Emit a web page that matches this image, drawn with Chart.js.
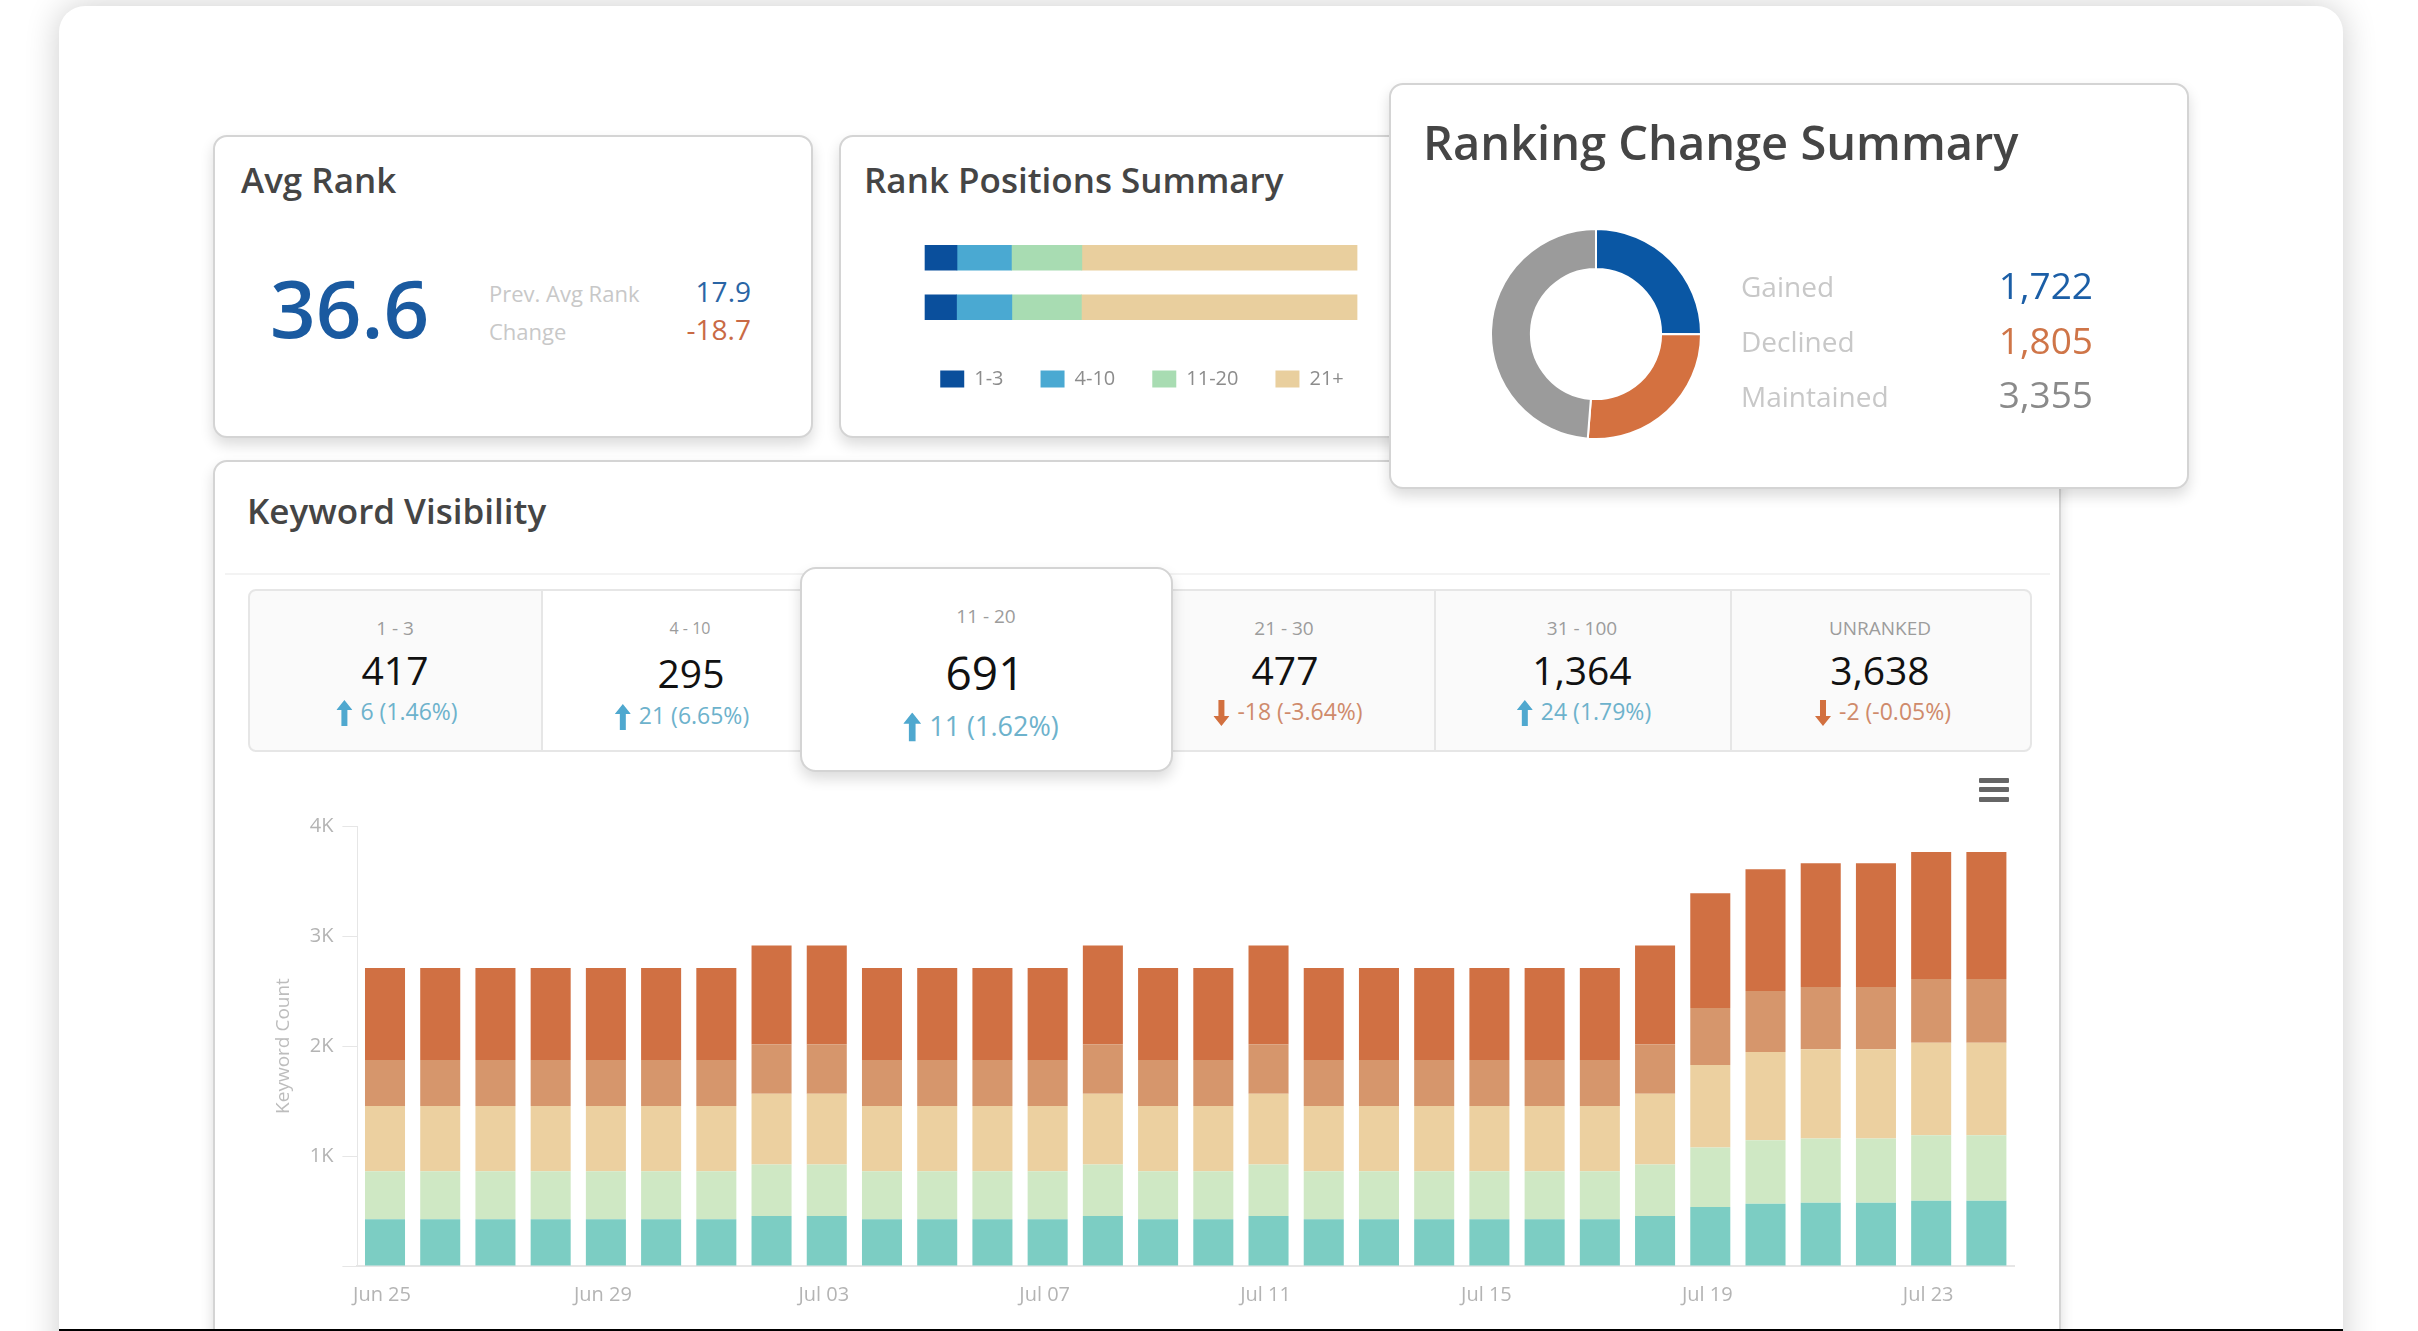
<!DOCTYPE html>
<html>
<head>
<meta charset="utf-8">
<title>Keyword Visibility</title>
<script src="https://cdn.jsdelivr.net/npm/chart.js@4"></script>
<style>
  html, body { margin: 0; height: 100%; background: #fff; overflow: hidden; font-family: "Open Sans", sans-serif; }
  .abs, .card, .t, .c, .r, canvas { position: absolute; }
  #panel { left: 59px; top: 6px; width: 2284px; height: 1400px; background: #fff; border-radius: 26px; box-shadow: 0 0 34px rgba(0,0,0,.2); }
  #strip { left: 59px; width: 2284px; top: 1329px; height: 2px; background: #000; z-index: 9; }
  .card { background: #fff; border: 2px solid #d4d4d4; border-radius: 14px; box-shadow: 0 7px 14px rgba(0,0,0,.14); box-sizing: border-box; }
  .t { transform: translateY(-50%); white-space: nowrap; }
  .c { transform: translate(-50%,-50%); white-space: nowrap; }
  .r { transform: translate(-100%,-50%); white-space: nowrap; }
  .title { font-weight: 600; color: #454545; font-size: 35px; }
  .lab { color: #c8c8c8; }
  .klab { color: #9c9c9c; font-size: 19px; }
  .kval { color: #111; font-size: 39px; font-weight: 500; }
  .kup { color: #6db2cc; font-size: 23px; }
  .kdn { color: #cf8a6b; font-size: 23px; }
  .kup svg, .kdn svg { vertical-align: -6px; margin-right: 8px; }
  .div { top: 589px; width: 2px; height: 163px; background: #e6e6e6; }
  .bar { left: 1979px; width: 30px; height: 5px; background: #666; border-radius: 1px; }
</style>
</head>
<body>
<div id="panel" class="abs"></div>
<div id="strip" class="abs"></div>

<div class="card" style="left:213px;top:135px;width:600px;height:303px"></div>
<div class="t title" style="left:241px;top:179px">Avg Rank</div>
<div class="t" style="left:270px;top:306px;font-size:80px;font-weight:600;color:#1a5aa0">36.6</div>
<div class="t lab" style="left:489px;top:293px;font-size:22px">Prev. Avg Rank</div>
<div class="t lab" style="left:489px;top:331px;font-size:22px">Change</div>
<div class="r" style="left:751px;top:291px;font-size:28px;font-weight:500;color:#2a65a5">17.9</div>
<div class="r" style="left:751px;top:329px;font-size:28px;font-weight:500;color:#c96a45">-18.7</div>

<div class="card" style="left:839px;top:135px;width:600px;height:303px"></div>
<div class="t title" style="left:864px;top:179px">Rank Positions Summary</div>
<canvas id="rank-chart" width="634" height="166" style="left:825px;top:233px"></canvas>

<div class="card" style="left:213px;top:460px;width:1848px;height:1000px"></div>
<div class="t title" style="left:247px;top:510px">Keyword Visibility</div>
<div class="abs" style="left:225px;top:573px;width:1825px;height:2px;background:#f3f3f3"></div>

<div class="abs" style="left:248px;top:589px;width:1784px;height:163px;background:#fafafa;border:2px solid #e6e6e6;border-radius:8px;box-sizing:border-box"></div>
<div class="abs" style="left:543px;top:591px;width:270px;height:159px;background:#fff"></div>
<div class="abs div" style="left:541px"></div>
<div class="abs div" style="left:1434px"></div>
<div class="abs div" style="left:1730px"></div>

<div class="c klab" style="left:395px;top:628px">1 - 3</div>
<div class="c kval" style="left:395px;top:669px">417</div>
<div class="c kup" style="left:397px;top:711px"><svg width="16" height="26" viewBox="0 0 16 26"><path d="M8 0 16 10H11V26H5V10H0Z" fill="#4fa8cf"/></svg>6 (1.46%)</div>

<div class="c klab" style="left:690px;top:628px;font-size:16px">4 - 10</div>
<div class="c kval" style="left:691px;top:672px">295</div>
<div class="c kup" style="left:682px;top:715px"><svg width="16" height="26" viewBox="0 0 16 26"><path d="M8 0 16 10H11V26H5V10H0Z" fill="#4fa8cf"/></svg>21 (6.65%)</div>

<div class="c klab" style="left:1284px;top:628px">21 - 30</div>
<div class="c kval" style="left:1285px;top:669px">477</div>
<div class="c kdn" style="left:1288px;top:711px"><svg width="16" height="26" viewBox="0 0 16 26"><path d="M8 26 16 16H11V0H5V16H0Z" fill="#d2703f"/></svg>-18 (-3.64%)</div>

<div class="c klab" style="left:1582px;top:628px">31 - 100</div>
<div class="c kval" style="left:1582px;top:669px">1,364</div>
<div class="c kup" style="left:1584px;top:711px"><svg width="16" height="26" viewBox="0 0 16 26"><path d="M8 0 16 10H11V26H5V10H0Z" fill="#4fa8cf"/></svg>24 (1.79%)</div>

<div class="c klab" style="left:1880px;top:628px">UNRANKED</div>
<div class="c kval" style="left:1880px;top:669px">3,638</div>
<div class="c kdn" style="left:1883px;top:711px"><svg width="16" height="26" viewBox="0 0 16 26"><path d="M8 26 16 16H11V0H5V16H0Z" fill="#d2703f"/></svg>-2 (-0.05%)</div>

<div class="card" style="left:800px;top:567px;width:373px;height:205px;border-radius:16px;z-index:3"></div>
<div class="c klab" style="left:986px;top:616px;z-index:4">11 - 20</div>
<div class="c kval" style="left:985px;top:672px;font-size:46px;z-index:4">691</div>
<div class="c kup" style="left:981px;top:725px;font-size:27px;z-index:4"><svg width="18" height="29" viewBox="0 0 16 26"><path d="M8 0 16 10H11V26H5V10H0Z" fill="#4fa8cf"/></svg>11 (1.62%)</div>

<div class="abs bar" style="top:778px"></div>
<div class="abs bar" style="top:787px"></div>
<div class="abs bar" style="top:797px"></div>

<canvas id="keyword-chart" width="1778" height="526" style="left:262px;top:805px"></canvas>

<div class="card" style="left:1389px;top:83px;width:800px;height:406px;z-index:5"></div>
<div class="t title" style="left:1423px;top:142px;font-size:47px;z-index:6">Ranking Change Summary</div>
<canvas id="change-chart" width="212" height="212" style="left:1490px;top:228px;z-index:6"></canvas>
<div class="t lab" style="left:1741px;top:286px;font-size:28px;z-index:6">Gained</div>
<div class="t lab" style="left:1741px;top:341px;font-size:28px;z-index:6">Declined</div>
<div class="t lab" style="left:1741px;top:396px;font-size:28px;z-index:6">Maintained</div>
<div class="r" style="left:2093px;top:284px;font-size:37px;font-weight:500;color:#1b5ea6;z-index:6">1,722</div>
<div class="r" style="left:2093px;top:339px;font-size:37px;font-weight:500;color:#cf7548;z-index:6">1,805</div>
<div class="r" style="left:2093px;top:393px;font-size:37px;font-weight:500;color:#8a8a8a;z-index:6">3,355</div>

<script>
const days = [
  'Jun 25', 'Jun 26', 'Jun 27', 'Jun 28', 'Jun 29', 'Jun 30', 'Jul 01', 'Jul 02', 'Jul 03', 'Jul 04',
  'Jul 05', 'Jul 06', 'Jul 07', 'Jul 08', 'Jul 09', 'Jul 10', 'Jul 11', 'Jul 12', 'Jul 13', 'Jul 14',
  'Jul 15', 'Jul 16', 'Jul 17', 'Jul 18', 'Jul 19', 'Jul 20', 'Jul 21', 'Jul 22', 'Jul 23', 'Jul 24'
];
const rank1to3 = [424, 424, 424, 424, 424, 424, 424, 454, 454, 424, 424, 424, 424, 454, 424, 424, 454, 424, 424, 424, 424, 424, 424, 454, 536, 566, 575, 575, 593, 593];
const rank4to10 = [438, 438, 438, 438, 438, 438, 438, 469, 469, 438, 438, 438, 438, 469, 438, 438, 469, 438, 438, 438, 438, 438, 438, 469, 541, 578, 584, 584, 596, 596];
const rank11to20 = [593, 593, 593, 593, 593, 593, 593, 644, 644, 593, 593, 593, 593, 644, 593, 593, 644, 593, 593, 593, 593, 593, 593, 644, 751, 802, 811, 811, 841, 841];
const rank21to30 = [418, 418, 418, 418, 418, 418, 418, 448, 448, 418, 418, 418, 418, 448, 418, 418, 448, 418, 418, 418, 418, 418, 418, 448, 517, 553, 566, 566, 578, 578];
const rank31to100 = [835, 835, 835, 835, 835, 835, 835, 899, 899, 835, 835, 835, 835, 899, 835, 835, 899, 835, 835, 835, 835, 835, 835, 899, 1044, 1108, 1125, 1125, 1156, 1156];

const positionRows = ['Current', 'Previous'];
const positionLabels = ['1-3', '4-10', '11-20', '21+'];
const positionValues = [
  [7.4, 7.3],
  [12.6, 12.8],
  [16.3, 16.1],
  [63.7, 63.8]
];

const changeLabels = ['Gained', 'Declined', 'Maintained'];
const changeValues = [1722, 1805, 3355];

Chart.defaults.font.family = '"Open Sans", sans-serif';
Chart.defaults.animation = false;

const axisLine = '#e6e6e6';
const tickGrey = '#b4b4b4';

// Rank Positions Summary
// wider axis range than the data, so the one-line legend fits in the canvas
new Chart(document.getElementById('rank-chart'), {
  type: 'bar',
  data: {
    labels: positionRows,
    datasets: positionLabels.map((label, i) => ({
      label: label,
      data: positionValues[i],
      backgroundColor: ['#0a4f9c', '#4aa9d2', '#a8dcb2', '#e9cf9e'][i],
      barThickness: 25
    }))
  },
  options: {
    indexAxis: 'y',
    responsive: false,
    scales: {
      x: { stacked: true, display: false, min: -23.15, max: 123.6 },
      y: { stacked: true, display: false }
    },
    plugins: {
      tooltip: { enabled: false },
      legend: {
        position: 'bottom',
        labels: { boxWidth: 24, boxHeight: 17, padding: 37, color: '#8c8c8c', font: { size: 20 } }
      }
    }
  }
});

// Ranking Change Summary
new Chart(document.getElementById('change-chart'), {
  type: 'doughnut',
  data: {
    labels: changeLabels,
    datasets: [{
      data: changeValues,
      backgroundColor: ['#0a57a4', '#d47140', '#9b9b9b'],
      borderColor: '#fff',
      borderWidth: 2
    }]
  },
  options: {
    responsive: false,
    cutout: '62%',
    plugins: { legend: { display: false }, tooltip: { enabled: false } }
  }
});

// Keyword Visibility
const stack = [
  ['1-3', rank1to3, '#7ccdc3'],
  ['4-10', rank4to10, '#cfe8c4'],
  ['11-20', rank11to20, '#ecd0a0'],
  ['21-30', rank21to30, '#d6966c'],
  ['31-100', rank31to100, '#d07043']
];

new Chart(document.getElementById('keyword-chart'), {
  type: 'bar',
  data: {
    labels: days,
    datasets: stack.map(s => ({
      label: s[0],
      data: s[1],
      backgroundColor: s[2],
      categoryPercentage: 1,
      barPercentage: 0.725
    }))
  },
  options: {
    responsive: false,
    layout: { padding: { top: 20, right: 26 } },
    scales: {
      x: {
        stacked: true,
        grid: { display: false },
        border: { color: axisLine, width: 2 },
        afterFit: scale => { scale.height = 65; },
        ticks: {
          autoSkip: false,
          maxRotation: 0,
          padding: 9,
          labelOffset: -3,
          color: tickGrey,
          font: { size: 20 },
          callback: function (v, i) { return i % 4 === 0 ? this.getLabelForValue(v) : ''; }
        }
      },
      y: {
        stacked: true,
        min: 0,
        max: 4000,
        afterFit: scale => { scale.width = 95.4; },
        grid: { drawOnChartArea: false, color: axisLine, tickLength: 15 },
        border: { color: axisLine },
        ticks: {
          stepSize: 1000,
          padding: 9,
          color: tickGrey,
          font: { size: 20 },
          callback: v => v === 0 ? '' : (v / 1000) + 'K'
        },
        title: {
          display: true,
          text: 'Keyword Count',
          color: '#bdbdbd',
          font: { size: 19 },
          padding: { top: 10, bottom: 0 }
        }
      }
    },
    plugins: { legend: { display: false }, tooltip: { enabled: false } }
  }
});
</script>
</body>
</html>
